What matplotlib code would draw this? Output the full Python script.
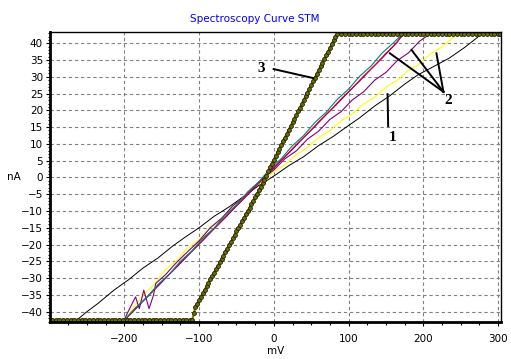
import matplotlib
matplotlib.use('Agg')
import matplotlib.pyplot as plt
from matplotlib.ticker import MultipleLocator

# curve 3 (olive, with markers) - saturated at both ends
c3_x = [-297, -292, -287, -282, -277, -272, -267, -262, -257, -252, -247, -242, -237, -232,
        -227, -222, -217, -212, -207, -202, -197, -192, -187, -182, -177, -172, -167, -162,
        -157, -152, -147, -142, -137, -132, -127, -122, -117, -112, -109, -107, -105,
        -102.5, -100, -97.5, -95, -92.5, -90, -87.5, -85, -82.5, -80, -77.5, -75, -72.5, -70,
        -67.5, -65, -62.5, -60, -57.5, -55, -52.5, -50, -47.5, -45, -42.5, -40, -37.5, -35,
        -32.5, -30, -27.5, -25, -22.5, -20, -17.5, -15, -12.5, -10,
        -7.5, -5, -2.5, 0, 2.5, 5, 7.5, 10, 12.5, 15, 17.5, 20, 22.5, 25, 27.5, 30, 32.5, 35,
        37.5, 40, 42.5, 45, 47.5, 50, 52.5, 55, 57.5, 60, 62.5, 65, 67.5, 70, 72.5, 75, 77.5,
        80, 82.5, 85,
        90, 95, 100, 105, 110, 115, 120, 125, 130, 135, 140, 145, 150, 155, 160, 165, 170,
        175, 180, 185, 190, 195, 200, 205, 210, 215, 220, 225, 230, 235, 240, 245, 250, 255,
        260, 265, 270, 275, 280, 285, 290, 295, 300, 303]
c3_y = [-42.4] * 39 + [-40.5, -38.6,
        -37.6, -36.6, -35.5, -34.5, -33.5, -32.5, -31.4, -30.4, -29.4, -28.4, -27.4, -26.3,
        -25.3, -24.3, -23.3, -22.2, -21.2, -20.2, -19.2, -18.2, -17.1, -16.1, -15.1, -14.1,
        -13.0, -12.0, -11.0, -10.0, -9.0, -7.9, -6.9, -5.9, -4.9, -3.8, -2.8, -1.8, -0.8, 0.3,
        1.9, 3.0, 4.1, 5.3, 6.4, 7.5, 8.6, 9.7, 10.8, 11.9, 13.0, 14.2, 15.3, 16.4, 17.5, 18.6,
        19.7, 20.8, 21.9, 23.1, 24.2, 25.3, 26.4, 27.5, 28.6, 29.7, 30.9, 32.0, 33.1, 34.2,
        35.3, 36.4, 37.5, 38.6, 39.8, 40.9, 42.0, 42.8] + [42.8] * 44

# curve 1 (black)
c1_x = [-263, -250, -235, -214, -195, -175, -155, -135, -118, -100, -80, -60, -38, -20, 0,
        20, 40, 60, 80, 95, 115, 135, 155, 175, 193, 215, 235, 255, 270, 278]
c1_y = [-42.4, -40.0, -37.5, -33.6, -30.6, -27.0, -24.0, -20.4, -17.7, -15.0, -11.6, -8.8,
        -5.3, -2.4, 0.4, 3.5, 6.2, 9.5, 12.3, 14.7, 17.8, 21.3, 24.3, 27.8, 30.6, 33.2, 35.6,
        38.7, 41.3, 42.8]

# curves 2
teal_x = [-198, -185, -170, -155, -140, -125, -110, -95, -80, -65, -50, -35, -20, -5, 10,
          25, 40, 55, 70, 85, 100, 115, 130, 145, 160, 172]
teal_y = [-42.0, -38.8, -35.8, -31.9, -28.9, -25.0, -22.0, -18.1, -15.1, -11.2, -8.2, -4.3,
          -1.3, 2.6, 5.6, 9.5, 12.5, 16.4, 19.4, 23.3, 26.3, 30.2, 33.2, 37.1, 40.1, 42.8]
red_x = [-196, -180, -165, -150, -135, -120, -105, -90, -75, -60, -45, -30, -15, 0, 15,
         30, 45, 60, 75, 90, 105, 120, 135, 150, 165, 171]
red_y = [-41.7, -37.9, -34.6, -31.0, -27.8, -24.2, -21.0, -17.4, -14.2, -10.6, -7.4, -3.8,
         -0.6, 3.0, 6.2, 9.8, 13.0, 16.6, 19.8, 23.4, 26.6, 30.2, 33.4, 37.0, 40.2, 42.8]
blue_x = [-199, -185, -170, -155, -140, -125, -110, -95, -80, -65, -50, -35, -20, -5, 10,
          25, 40, 55, 70, 85, 100, 115, 130, 145, 160, 174]
blue_y = [-42.3, -39.2, -35.7, -32.4, -28.9, -25.6, -22.1, -18.8, -15.3, -12.0, -8.5, -5.2,
          -1.7, 1.6, 5.1, 8.4, 11.9, 15.2, 18.7, 22.0, 25.5, 28.8, 32.3, 35.6, 39.1, 42.8]
purple_x = [-212, -200, -195, -185, -180, -174, -167, -161, -158, -145, -130, -118, -100,
            -85, -70, -55, -40, -29, -15, 0, 15, 30, 45, 60, 75, 90, 105, 120, 135, 150,
            165, 180, 195, 209]
purple_y = [-42.4, -42.4, -40.0, -35.6, -39.1, -33.6, -39.1, -35.1, -31.6, -29.0, -25.3,
            -22.7, -18.9, -15.0, -12.2, -8.5, -5.8, -3.3, -0.3, 2.2, 5.6, 7.9, 11.4, 13.8,
            17.3, 19.6, 23.1, 25.5, 29.0, 31.3, 34.8, 37.1, 40.6, 42.8]
yellow_x = [-198, -187, -175, -160, -145, -130, -118, -100, -85, -70, -55, -40, -29, -15,
            0, 15, 30, 45, 60, 75, 90, 105, 120, 135, 150, 165, 180, 195, 210, 225, 240, 249]
yellow_y = [-42.0, -38.6, -35.2, -31.9, -27.5, -24.8, -21.7, -18.5, -14.8, -12.2, -8.5,
            -5.9, -3.1, -1.2, 1.8, 3.8, 6.8, 8.9, 11.9, 13.9, 16.9, 18.9, 21.9, 23.9, 26.9,
            28.9, 31.9, 33.9, 36.9, 38.9, 41.8, 42.8]

x_ticks = [-200, -100, 0, 100, 200, 300]
y_ticks = list(range(-40, 45, 5))

fig = plt.figure(figsize=(5.11, 3.59), dpi=100)
ax = fig.add_axes([50 / 511, 1 - 321.7 / 359, 451 / 511, 290.2 / 359])

ax.grid(True, color='#808080', linestyle=(0, (3, 2.5)), linewidth=0.8)
ax.set_axisbelow(True)

ax.plot(c1_x, c1_y, color='black', lw=0.7)
ax.plot(yellow_x, yellow_y, color='#ffff00', lw=0.8)
ax.plot(purple_x, purple_y, color='#800080', lw=0.8)
ax.plot(blue_x, blue_y, color='#0000ff', lw=0.8)
ax.plot(red_x, red_y, color='#ff0000', lw=0.8)
ax.plot(teal_x, teal_y, color='#008080', lw=0.8)
ax.plot(c3_x, c3_y, color='#808000', lw=1.6, marker='o', ms=2.8,
        mfc='#6e6e00', mec='#1e1e00', mew=0.6)

# annotations
ax.plot([-0.3, 53], [32.3, 29.6], color='black', lw=1.4)
ax.text(-17, 32.5, '3', fontsize=11, fontweight='bold', family='Liberation Serif',
        ha='center', va='center')
for px, py in [(155.3, 37.0), (184.3, 38.0), (217.6, 37.0)]:
    ax.plot([px, 227], [py, 25.5], color='black', lw=1.4)
ax.text(233, 23.0, '2', fontsize=11, fontweight='bold', family='Liberation Serif',
        ha='center', va='center')
ax.plot([152.2, 153], [24.8, 15.3], color='black', lw=1.4)
ax.text(159.5, 12.0, '1', fontsize=11, fontweight='bold', family='Liberation Serif',
        ha='center', va='center')

ax.set_xlim(-299.5, 304)
ax.set_ylim(-43.0, 43.5)
ax.set_xticks(x_ticks)
ax.set_yticks(y_ticks)
ax.xaxis.set_minor_locator(MultipleLocator(25))
ax.yaxis.set_minor_locator(MultipleLocator(1))
ax.tick_params(axis='both', which='major', labelsize=7.5, length=3, width=0.8,
               direction='out', pad=2)
ax.tick_params(axis='x', which='major', pad=6)
ax.tick_params(axis='x', which='minor', length=2, width=0.8)
ax.tick_params(axis='y', which='minor', length=1.5, width=0.8)

for side in ['top', 'right']:
    ax.spines[side].set_linewidth(1.0)
for side in ['bottom', 'left']:
    ax.spines[side].set_linewidth(2.0)

ax.set_xlabel('mV', fontsize=7.5, labelpad=1)
ax.set_ylabel('nA', fontsize=7.5, rotation=0, labelpad=5, va='center')
ax.set_title('Spectroscopy Curve STM', color='blue', fontsize=7.5, pad=7, x=0.455)

fig.savefig('out.png', dpi=100)
